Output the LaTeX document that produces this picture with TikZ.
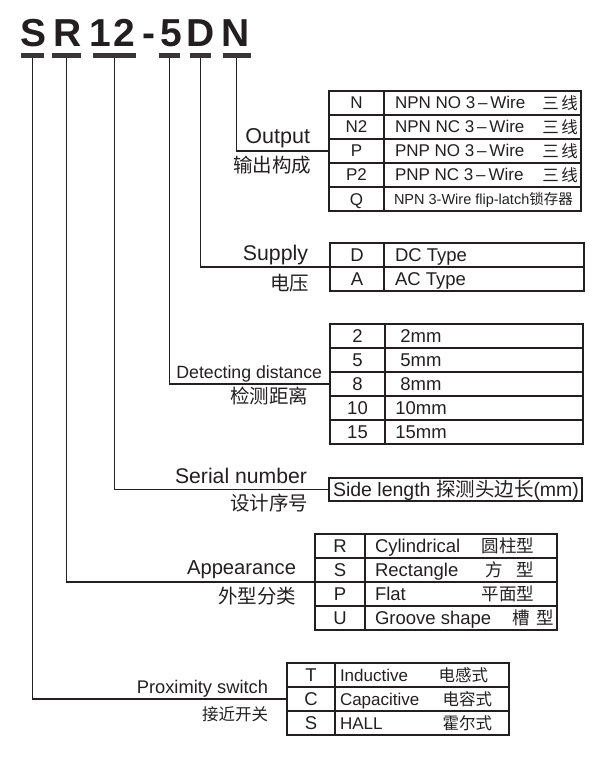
\documentclass[tikz,border=0pt]{standalone}
\usepackage{fontspec}
\setmainfont{Liberation Sans}
\newfontfamily\cjk{Noto Sans CJK SC}
\definecolor{ink}{HTML}{231F20}
\begin{document}
\begin{tikzpicture}[x=1pt,y=-1pt,
  every node/.style={inner sep=0pt, outer sep=0pt, text=ink},
  ttl/.style={font=\bfseries\fontsize{39}{39}\selectfont, anchor=base},
  bar/.style={fill=ink!90, draw=none, minimum height=5pt},
  conn/.style={draw=ink, line width=1.3pt},
  tbl/.style={draw=ink, line width=1.4pt, rectangle},
  grid/.style={draw=ink, line width=1.4pt},
  lbl/.style={anchor=base east},
  cnl/.style={anchor=east, font=\cjk\fontsize{19.5}{20}\selectfont},
  cell/.style={font=\fontsize{17}{17}\selectfont},
  cellb/.style={font=\fontsize{18.5}{18.5}\selectfont},
  cjc/.style={font=\cjk\fontsize{16.5}{17}\selectfont}
]
\useasboundingbox (0,0) rectangle (600,759);

% title
\node[ttl] (c1) at (33.5,47) {S};
\node[ttl] (c2) at (67.5,47) {R};
\node[ttl] (c3) at (100,47) {1};
\node[ttl] (c4) at (124,47) {2};
\node[ttl] (c5) at (149,47) {-};
\node[ttl] (c6) at (171,47) {5};
\node[ttl] (c7) at (201,47) {D};
\node[ttl] (c8) at (235.5,47) {N};

% bars
\node[bar, minimum width=23pt] (bS) at (32.5,56) {};
\node[bar, minimum width=29pt] (bR) at (66.5,56) {};
\node[bar, minimum width=43pt] (b12) at (114.5,56) {};
\node[bar, minimum width=21pt] (b5) at (169.5,56) {};
\node[bar, minimum width=21pt] (bD) at (200.5,56) {};
\node[bar, minimum width=28pt] (bN) at (236.5,56) {};

% ---------- Output table
\node[tbl, minimum width=252pt, minimum height=120pt] (tOut) at (455,151) {};
\draw[grid] (384,91) -- (384,211);
\foreach \y in {115,139,163,187} \draw[grid] (329,\y) -- (581,\y);
\node[cell, anchor=base] (o1c) at (356.5,109) {N};
\node[cell, anchor=base] (o2c) at (356.5,133) {N2};
\node[cell, anchor=base] (o3c) at (356.5,157) {P};
\node[cell, anchor=base] (o4c) at (356.5,181) {P2};
\node[cell, anchor=base] (o5c) at (356.5,205) {Q};
\node[cell, anchor=base west] (o1d) at (395,109) {NPN NO 3\,–\,Wire};
\node[cell, anchor=base west] (o2d) at (395,133) {NPN NC 3\,–\,Wire};
\node[cell, anchor=base west] (o3d) at (395,157) {PNP NO 3\,–\,Wire};
\node[cell, anchor=base west] (o4d) at (395,181) {PNP NC 3\,–\,Wire};
\node[cjc, anchor=east] (o1z) at (578,103) {三\,线};
\node[cjc, anchor=east] (o2z) at (578,127) {三\,线};
\node[cjc, anchor=east] (o3z) at (578,151) {三\,线};
\node[cjc, anchor=east] (o4z) at (578,175) {三\,线};
\node[anchor=base west, font=\fontsize{14.5}{14.5}\selectfont] (o5d) at (394,204.5) {NPN 3-Wire flip-latch{\cjk 锁存器}};
\node[lbl, font=\fontsize{21.5}{21.5}\selectfont] (lOut) at (310,144) {Output};
\node[cnl] (zOut) at (311,165) {输出构成};
\draw[conn] (bN.south) |- (tOut.west);

% ---------- Supply table
\node[tbl, minimum width=254pt, minimum height=48pt] (tSup) at (457,267) {};
\draw[grid] (384,243) -- (384,291);
\draw[grid] (330,267) -- (584,267);
\node[cellb, anchor=base] (s1c) at (357,261.5) {D};
\node[cellb, anchor=base] (s2c) at (357,285.5) {A};
\node[cellb, anchor=base west] (s1d) at (395,261.5) {DC Type};
\node[cellb, anchor=base west] (s2d) at (395,285.5) {AC Type};
\node[lbl, font=\fontsize{21.3}{21.3}\selectfont] (lSup) at (308,260) {Supply};
\node[cnl] (zSup) at (309,283) {电压};
\draw[conn] (bD.south) |- (tSup.west);

% ---------- Detecting distance table
\node[tbl, minimum width=253pt, minimum height=120pt] (tDet) at (456.5,384) {};
\draw[grid] (385,324) -- (385,444);
\foreach \y in {348,372,396,420} \draw[grid] (330,\y) -- (583,\y);
\node[cellb, anchor=base] (d1c) at (357.5,342.5) {2};
\node[cellb, anchor=base] (d2c) at (357.5,366.5) {5};
\node[cellb, anchor=base] (d3c) at (357.5,390.5) {8};
\node[cellb, anchor=base] (d4c) at (357.5,414.5) {10};
\node[cellb, anchor=base] (d5c) at (357.5,438.5) {15};
\node[cellb, anchor=base] (d1d) at (421,342.5) {2mm};
\node[cellb, anchor=base] (d2d) at (421,366.5) {5mm};
\node[cellb, anchor=base] (d3d) at (421,390.5) {8mm};
\node[cellb, anchor=base] (d4d) at (421,414.5) {10mm};
\node[cellb, anchor=base] (d5d) at (421,438.5) {15mm};
\node[lbl, font=\fontsize{17.7}{17.7}\selectfont] (lDet) at (322,378) {Detecting distance};
\node[cnl] (zDet) at (308,396) {检测距离};
\draw[conn] (b5.south) |- (tDet.west);

% ---------- Serial number box
\node[tbl, minimum width=253pt, minimum height=23pt] (tSer) at (455.5,489.5) {};
\node[anchor=base west, font=\fontsize{19.5}{19.5}\selectfont] (serd) at (333,496) {Side length {\cjk 探测头边长}(mm)};
\node[lbl, font=\fontsize{21.2}{21.2}\selectfont] (lSer) at (307,483) {Serial number};
\node[cnl] (zSer) at (308,503) {设计序号};
\draw[conn] (b12.south) |- (tSer.west);

% ---------- Appearance table
\node[tbl, minimum width=242pt, minimum height=96pt] (tApp) at (436,582) {};
\draw[grid] (365,534) -- (365,630);
\foreach \y in {558,582,606} \draw[grid] (315,\y) -- (557,\y);
\node[cellb, anchor=base] (a1c) at (340,552.5) {R};
\node[cellb, anchor=base] (a2c) at (340,576.5) {S};
\node[cellb, anchor=base] (a3c) at (340,600.5) {P};
\node[cellb, anchor=base] (a4c) at (340,624.5) {U};
\node[cellb, anchor=base west] (a1d) at (375,552.5) {Cylindrical};
\node[cellb, anchor=base west] (a2d) at (375,576.5) {Rectangle};
\node[cellb, anchor=base west] (a3d) at (375,600.5) {Flat};
\node[cellb, anchor=base west] (a4d) at (375,624.5) {Groove shape};
\node[cjc, font=\cjk\fontsize{17.5}{18}\selectfont, anchor=east] (a1z) at (534,546) {圆柱型};
\node[cjc, font=\cjk\fontsize{17.5}{18}\selectfont, anchor=center] (a2z) at (494,570) {方};
\node[cjc, font=\cjk\fontsize{17.5}{18}\selectfont, anchor=east] (a2y) at (534,570) {型};
\node[cjc, font=\cjk\fontsize{17.5}{18}\selectfont, anchor=east] (a3z) at (534,594) {平面型};
\node[cjc, font=\cjk\fontsize{17.5}{18}\selectfont, anchor=center] (a4z) at (521,618) {槽};
\node[cjc, font=\cjk\fontsize{17.5}{18}\selectfont, anchor=east] (a4y) at (554,618) {型};
\node[lbl, font=\fontsize{20.2}{20.2}\selectfont] (lApp) at (296,574) {Appearance};
\node[cnl] (zApp) at (296,596) {外型分类};
\draw[conn] (bR.south) |- (tApp.west);

% ---------- Proximity switch table
\node[tbl, minimum width=222pt, minimum height=72pt] (tPro) at (398,699) {};
\draw[grid] (335,663) -- (335,735);
\foreach \y in {687,711} \draw[grid] (287,\y) -- (509,\y);
\node[cellb, anchor=base] (p1c) at (311,681.5) {T};
\node[cellb, anchor=base] (p2c) at (311,705.5) {C};
\node[cellb, anchor=base] (p3c) at (311,729.5) {S};
\node[cell, anchor=base west] (p1d) at (340,681) {Inductive};
\node[cell, anchor=base west] (p2d) at (340,705) {Capacitive};
\node[cell, anchor=base west] (p3d) at (340,729) {HALL};
\node[cjc, anchor=east] (p1z) at (488,675) {电感式};
\node[cjc, anchor=east] (p2z) at (492,699) {电容式};
\node[cjc, anchor=east] (p3z) at (492,723) {霍尔式};
\node[lbl, font=\fontsize{18.3}{18.3}\selectfont] (lPro) at (268,693) {Proximity switch};
\node[cnl, font=\cjk\fontsize{16.5}{17}\selectfont] (zPro) at (268,714) {接近开关};
\draw[conn] (bS.south) |- (tPro.west);
\end{tikzpicture}
\end{document}
